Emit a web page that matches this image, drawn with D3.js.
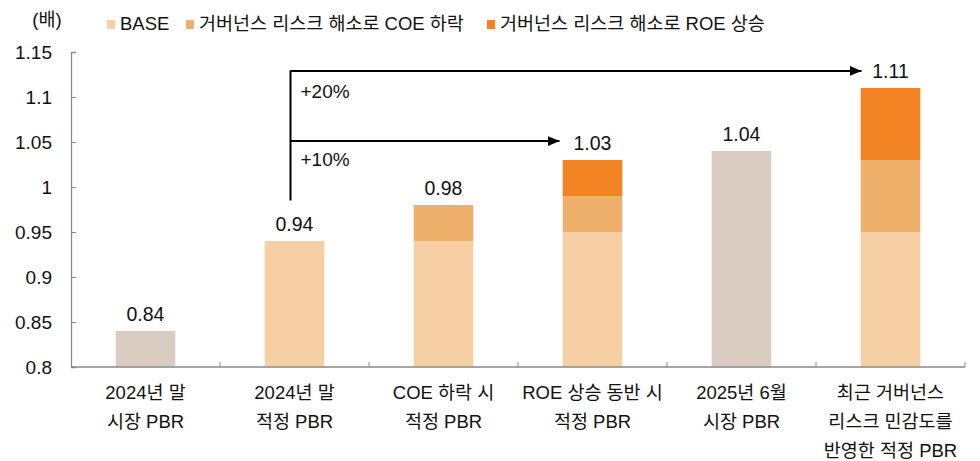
<!DOCTYPE html>
<html>
<head>
<meta charset="utf-8">
<script src="https://cdn.jsdelivr.net/npm/d3@7"></script>
<style>
  body { margin: 0; background: #fff; }
  svg text { font-family: "Liberation Sans", "Noto Sans CJK KR", sans-serif; fill: #111; }
</style>
</head>
<body>
<div id="chart"></div>
<script>
// categories (multi-line labels)
const categories = [
  ["2024년 말", "시장 PBR"],
  ["2024년 말", "적정 PBR"],
  ["COE 하락 시", "적정 PBR"],
  ["ROE 상승 동반 시", "적정 PBR"],
  ["2025년 6월", "시장 PBR"],
  ["최근 거버넌스", "리스크 민감도를", "반영한 적정 PBR"]
]
// market PBR (grey bars), null where not a market bar
const market = [0.84, null, null, null, 1.04, null]
// stacked segments
const base = [null, 0.94, 0.94, 0.95, null, 0.95]
const coe = [null, 0, 0.04, 0.04, null, 0.08]
const roe = [null, 0, 0, 0.04, null, 0.08]
const totals = ["0.84", "0.94", "0.98", "1.03", "1.04", "1.11"]
const yTicks = [0.8, 0.85, 0.9, 0.95, 1, 1.05, 1.1, 1.15]
const legendNames = ["BASE", "거버넌스 리스크 해소로 COE 하락", "거버넌스 리스크 해소로 ROE 상승"]
const colors = { market: "#d9cdc2", base: "#f6d0a4", coe: "#efb06c", roe: "#f28424" }

const width = 980, height = 461
const margin = { left: 71, right: 15, top: 52, bottom: 94 }

const svg = d3.select("#chart").append("svg")
  .attr("width", width)
  .attr("height", height)

const x = d3.scaleBand()
  .domain(d3.range(categories.length))
  .range([margin.left, width - margin.right])
  .paddingInner(0.6)
  .paddingOuter(0.3)

const y = d3.scaleLinear()
  .domain([0.8, 1.15])
  .range([height - margin.bottom, margin.top])

// bars
const bars = []
categories.forEach((c, i) => {
  if (market[i] != null) {
    bars.push({ i: i, y0: 0.8, y1: market[i], color: colors.market })
  } else {
    let b = base[i]
    bars.push({ i: i, y0: 0.8, y1: b, color: colors.base })
    if (coe[i] > 0) bars.push({ i: i, y0: b, y1: b + coe[i], color: colors.coe })
    b += coe[i]
    if (roe[i] > 0) bars.push({ i: i, y0: b, y1: b + roe[i], color: colors.roe })
  }
})

svg.selectAll(".bar").data(bars).enter()
  .append("rect")
  .attr("class", "bar")
  .attr("x", d => x(d.i))
  .attr("width", x.bandwidth())
  .attr("y", d => y(d.y1))
  .attr("height", d => y(d.y0) - y(d.y1))
  .attr("fill", d => d.color)

// value labels
svg.selectAll(".val").data(totals).enter()
  .append("text")
  .attr("class", "val")
  .attr("x", (d, i) => x(i) + x.bandwidth() / 2)
  .attr("y", d => y(+d) - 10)
  .attr("text-anchor", "middle")
  .style("font-size", "19.5px")
  .text(d => d)

// y axis
const yAxis = d3.axisRight(y)
  .tickValues(yTicks)
  .tickSize(5)
  .tickFormat(d => d3.format("")(+d.toFixed(2)))
const gy = svg.append("g")
  .attr("transform", `translate(${margin.left},0)`)
  .call(yAxis)
gy.select(".domain").attr("stroke", "#888").attr("stroke-width", 1.3)
gy.selectAll(".tick line").attr("stroke", "#888")
gy.selectAll(".tick text")
  .attr("x", -19)
  .attr("text-anchor", "end")
  .style("font-size", "19px")

// x axis line and boundary ticks
const x0 = margin.left, x1 = width - margin.right
const step = x.step()
const gx = svg.append("g")
gx.append("line")
  .attr("x1", x0).attr("x2", x1)
  .attr("y1", y(0.8)).attr("y2", y(0.8))
  .attr("stroke", "#888").attr("stroke-width", 1.3)
gx.selectAll(".xt").data(d3.range(1, categories.length + 1)).enter()
  .append("line")
  .attr("x1", d => x(d - 1) + x.bandwidth() / 2 + step / 2)
  .attr("x2", d => x(d - 1) + x.bandwidth() / 2 + step / 2)
  .attr("y1", y(0.8)).attr("y2", y(0.8) - 5)
  .attr("stroke", "#888")

// category labels
categories.forEach((lines, i) => {
  const t = svg.append("text")
    .attr("x", x(i) + x.bandwidth() / 2)
    .attr("y", y(0.8) + 32)
    .attr("text-anchor", "middle")
    .style("font-size", "18.5px")
  lines.forEach((l, k) => {
    t.append("tspan")
      .attr("x", x(i) + x.bandwidth() / 2)
      .attr("dy", k == 0 ? 0 : 29)
      .text(l)
  })
})

// arrows (+10%, +20%)
svg.append("defs").append("marker")
  .attr("id", "arrow")
  .attr("viewBox", "0 0 12 10")
  .attr("refX", 12).attr("refY", 5)
  .attr("markerWidth", 12).attr("markerHeight", 10)
  .attr("markerUnits", "userSpaceOnUse")
  .attr("orient", "auto")
  .append("path")
  .attr("d", "M0,0L12,5L0,10Z")
  .attr("fill", "#000")

const ax = x(1) + x.bandwidth() / 2 - 4
svg.append("line")
  .attr("x1", ax).attr("x2", ax)
  .attr("y1", y(0.985)).attr("y2", y(1.1295))
  .attr("stroke", "#000").attr("stroke-width", 2)
svg.append("line")
  .attr("x1", ax).attr("x2", x(5) + x.bandwidth() / 2 - 29)
  .attr("y1", y(1.129)).attr("y2", y(1.129))
  .attr("stroke", "#000").attr("stroke-width", 2)
  .attr("marker-end", "url(#arrow)")
svg.append("line")
  .attr("x1", ax).attr("x2", x(3) + x.bandwidth() / 2 - 33)
  .attr("y1", y(1.051)).attr("y2", y(1.051))
  .attr("stroke", "#000").attr("stroke-width", 2)
  .attr("marker-end", "url(#arrow)")
svg.append("text")
  .attr("x", ax + 10).attr("y", y(1.099))
  .style("font-size", "19px")
  .text("+20%")
svg.append("text")
  .attr("x", ax + 10).attr("y", y(1.0233))
  .style("font-size", "19px")
  .text("+10%")

// unit label
svg.append("text")
  .attr("x", 47).attr("y", 26)
  .attr("text-anchor", "middle")
  .style("font-size", "18.5px")
  .text("(배)")

// legend
const legendX = [107, 186, 487]
const legendColors = [colors.base, colors.coe, colors.roe]
legendNames.forEach((n, i) => {
  svg.append("rect")
    .attr("x", legendX[i]).attr("y", 20)
    .attr("width", 8).attr("height", 9)
    .attr("fill", legendColors[i])
  svg.append("text")
    .attr("x", legendX[i] + 13).attr("y", 30)
    .style("font-size", "18.5px")
    .text(n)
})
</script>
</body>
</html>
